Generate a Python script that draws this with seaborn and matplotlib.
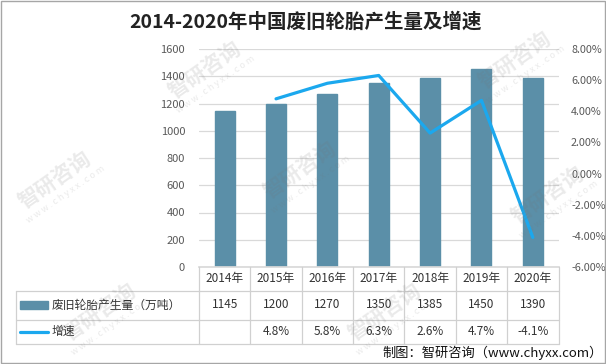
import matplotlib
matplotlib.use("Agg")
import math
import matplotlib.pyplot as plt
import seaborn as sns
import pandas as pd
from matplotlib.ticker import FuncFormatter, MultipleLocator
from matplotlib.patches import Rectangle
from matplotlib.lines import Line2D

years = ["2014年", "2015年", "2016年", "2017年", "2018年", "2019年", "2020年"]
output = [1145, 1200, 1270, 1350, 1385, 1450, 1390]
growth_years = ["2015年", "2016年", "2017年", "2018年", "2019年", "2020年"]
growth = [4.8, 5.8, 6.3, 2.6, 4.7, -4.1]
growth_labels = ["", "4.8%", "5.8%", "6.3%", "2.6%", "4.7%", "-4.1%"]
title = "2014-2020年中国废旧轮胎产生量及增速"
bar_name = "废旧轮胎产生量（万吨）"
line_name = "增速"
source = "制图：智研咨询（www.chyxx.com）"
wm_name = "智研咨询"
wm_url = "w w w . c h y x x . c o m"

sns.set_theme(style="white")
plt.rcParams['font.family'] = ['Noto Sans CJK SC', 'DejaVu Sans']

W, H = 606, 364
fig = plt.figure(figsize=(W / 100, H / 100), dpi=100)

BAR_C = "#5b8fa8"
LINE_C = "#1ba8ee"
GRID_C = "#d9d9d9"
TICK_C = "#595959"

# plot area in pixels
L, R, T, B = 199, 558.5, 49, 267
ax = fig.add_axes([L / W, 1 - B / H, (R - L) / W, (B - T) / H])
df = pd.DataFrame({"year": years, "value": output})
sns.barplot(data=df, x="year", y="value", color=BAR_C, width=0.39, ax=ax,
            saturation=1, edgecolor=BAR_C)
ax.set_xlim(-0.5, len(years) - 0.5)
ax.set_ylim(0, 1600)
ax.yaxis.set_major_locator(MultipleLocator(200))
ax.grid(axis="y", color=GRID_C, linewidth=0.9)
ax.set_axisbelow(True)
ax.set_xlabel("")
ax.set_ylabel("")
ax.set_xticks([])
for s in ["left", "right", "top"]:
    ax.spines[s].set_visible(False)
ax.spines["bottom"].set_color(GRID_C)
ax.tick_params(axis="y", length=0, pad=10, labelsize=8, labelcolor=TICK_C)

ax2 = ax.twinx()
gx = [years.index(y) for y in growth_years]
sns.lineplot(x=gx, y=growth, ax=ax2, color=LINE_C, linewidth=2.3)
ax2.set_ylim(-6, 8)
ax2.yaxis.set_major_locator(MultipleLocator(2))
ax2.yaxis.set_major_formatter(FuncFormatter(lambda v, p: f"{v:.2f}%"))
ax2.tick_params(axis="y", length=0, pad=9, labelsize=7.8, labelcolor=TICK_C)
for s in ["left", "right", "top", "bottom"]:
    ax2.spines[s].set_visible(False)
ax2.set_xlim(-0.5, len(years) - 0.5)

# overlay for table, title, border
ov2 = fig.add_axes([0, 0, 1, 1])
ov2.set_xlim(0, W)
ov2.set_ylim(H, 0)
ov2.axis("off")

ov2.add_patch(Rectangle((0.5, 0.5), W - 1.5, H - 1.5, fill=False, edgecolor="#a6a6a6", linewidth=1))
ov2.text(306, 22, title, ha="center", va="center", fontsize=14, fontweight="bold", color="#222222")

colw = (R - L) / len(years)
xs = [L + i * colw for i in range(len(years) + 1)]
rows = [B, 290.5, 319.5, 344]
TL = 16
lc = "#d0d0d0"
for y in rows[1:]:
    ov2.add_line(Line2D([TL, R], [y, y], color=lc, linewidth=0.9))
ov2.add_line(Line2D([TL, TL], [rows[1], rows[3]], color=lc, linewidth=0.9))
for x in xs:
    ov2.add_line(Line2D([x, x], [rows[0], rows[3]], color=lc, linewidth=0.9))

ymid = [(rows[i] + rows[i + 1]) / 2 for i in range(3)]
for i, yr in enumerate(years):
    cx = (xs[i] + xs[i + 1]) / 2
    ov2.text(cx, ymid[0], yr, ha="center", va="center", fontsize=8.5, color="#333333")
    ov2.text(cx, ymid[1], str(output[i]), ha="center", va="center", fontsize=8.5, color="#333333")
    ov2.text(cx, ymid[2], growth_labels[i], ha="center", va="center", fontsize=8.5, color="#333333")

ov2.add_patch(Rectangle((20, ymid[1] - 4), 28, 8, color=BAR_C))
ov2.add_line(Line2D([20, 48], [ymid[2], ymid[2]], color=LINE_C, linewidth=2.3))
ov2.text(52, ymid[1], bar_name, ha="left", va="center", fontsize=8.5, color="#333333")
ov2.text(52, ymid[2], line_name, ha="left", va="center", fontsize=8.5, color="#333333")

ov2.text(603, 353, source, ha="right", va="center", fontsize=9.5, color="#111111")

# faint watermarks
ang = 35
rad = math.radians(ang)
wm_pos = [(205, 70), (515, 60), (55, 180), (300, 170), (548, 195), (100, 312), (385, 312)]
for (cx, cy) in wm_pos:
    ov2.text(cx, cy, wm_name, ha="center", va="center", rotation=ang, fontsize=15,
             fontweight="bold", color=(0.45, 0.45, 0.45, 0.15), rotation_mode="anchor")
    ux, uy = cx + 18 * math.sin(rad), cy + 18 * math.cos(rad)
    ov2.text(ux, uy, wm_url, ha="center", va="center", rotation=ang, fontsize=6.5,
             color=(0.45, 0.45, 0.45, 0.15), rotation_mode="anchor")

fig.savefig("out.png", dpi=100)
